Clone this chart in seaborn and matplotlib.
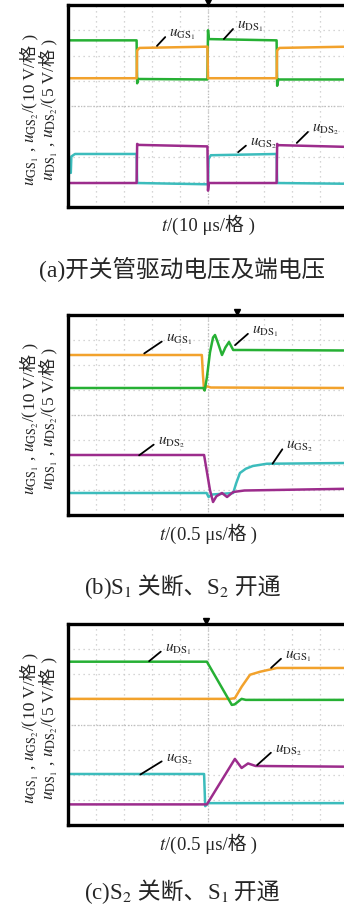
import matplotlib
matplotlib.use("Agg")
import matplotlib.pyplot as plt
import seaborn as sns

# time axis in divisions (10 div), voltage in divisions (8 div)
# ---- panel (a) ----
a_green_t = [0, 2.45, 2.47, 2.5, 4.98, 5.0, 5.03, 7.45, 7.47, 7.5, 10]
a_green_v = [6.6, 6.6, 4.9, 5.07, 5.05, 7.0, 6.65, 6.6, 4.8, 5.05, 5.05]
a_orange_t = [0, 2.45, 2.47, 2.55, 4.98, 5.0, 7.45, 7.47, 7.55, 10]
a_orange_v = [5.1, 5.1, 6.2, 6.3, 6.35, 5.1, 5.1, 6.2, 6.3, 6.35]
a_cyan_t = [0.1, 0.12, 0.25, 2.45, 2.47, 4.98, 5.0, 5.02, 5.1, 7.45, 7.47, 10]
a_cyan_v = [1.35, 2.0, 2.1, 2.1, 0.95, 0.9, 0.9, 1.9, 2.05, 2.1, 0.95, 0.92]
a_mag_t = [0, 2.45, 2.47, 2.5, 4.98, 5.0, 5.03, 7.45, 7.47, 7.5, 10]
a_mag_v = [0.95, 0.95, 2.5, 2.46, 2.4, 0.65, 0.95, 0.95, 2.5, 2.45, 2.38]

# ---- panel (b) ----
b_orange_t = [0, 4.78, 4.82, 4.86, 4.95, 5.1, 10]
b_orange_v = [6.4, 6.4, 5.6, 5.0, 5.15, 5.1, 5.08]
b_green_t = [0, 4.84, 4.88, 4.96, 5.07, 5.18, 5.25, 5.35, 5.5, 5.62, 5.75, 5.9, 6.3, 10]
b_green_v = [5.08, 5.08, 4.98, 5.5, 6.5, 7.1, 7.2, 6.9, 6.4, 6.7, 6.92, 6.6, 6.6, 6.58]
b_mag_t = [0, 4.86, 5.07, 5.18, 5.3, 5.5, 5.68, 5.9, 6.3, 10]
b_mag_v = [2.4, 2.4, 1.0, 0.52, 0.75, 0.88, 0.72, 0.92, 0.98, 1.05]
b_cyan_t = [0, 4.95, 5.02, 5.15, 5.9, 6.0, 6.14, 6.35, 6.6, 7.1, 10]
b_cyan_v = [0.88, 0.88, 0.72, 0.82, 0.88, 1.25, 1.68, 1.85, 1.96, 2.05, 2.08]

# ---- panel (c) ----
c_green_t = [0, 4.96, 5.85, 5.95, 6.2, 6.35, 10]
c_green_v = [6.5, 6.5, 4.78, 4.8, 5.02, 4.98, 4.98]
c_orange_t = [0, 5.8, 5.96, 6.2, 6.5, 6.86, 7.46, 10]
c_orange_v = [5.02, 5.02, 5.05, 5.5, 5.98, 6.1, 6.25, 6.25]
c_cyan_t = [0, 4.86, 4.9, 5.0, 10]
c_cyan_v = [2.03, 2.03, 0.75, 0.87, 0.87]
c_mag_t = [0, 4.96, 5.96, 6.2, 6.43, 6.7, 10]
c_mag_v = [0.82, 0.82, 2.63, 2.27, 2.45, 2.35, 2.32]

# labels: (subscript, leader start, leader end / text anchor)
a_labels = [("GS_1", (3.11, 6.30), (3.54, 6.81)),
            ("DS_1", (5.50, 6.57), (5.96, 7.13)),
            ("GS_2", (6.00, 2.10), (6.43, 2.50)),
            ("DS_2", (8.10, 2.46), (8.64, 3.05))]
b_labels = [("GS_1", (2.64, 6.40), (3.43, 7.00)),
            ("DS_1", (5.89, 6.72), (6.50, 7.32)),
            ("DS_2", (2.46, 2.32), (3.14, 2.88)),
            ("GS_2", (7.25, 1.96), (7.71, 2.72))]
c_labels = [("DS_1", (2.82, 6.45), (3.39, 6.97)),
            ("GS_1", (7.18, 6.18), (7.68, 6.69)),
            ("GS_2", (2.50, 1.95), (3.43, 2.59)),
            ("DS_2", (6.68, 2.31), (7.32, 2.95))]

trigger_x = [5.0, 6.04, 4.93]
ylabel_gs = [r"$u_{\mathrm{GS_1}}$ , $u_{\mathrm{GS_2}}$/(", "10 V/格", " )"]
ylabel_ds = [r"$u_{\mathrm{DS_1}}$ , $u_{\mathrm{DS_2}}$/(", "5 V/格", " )"]
x_labels = [["$t$/(", "10 μs/格", " )"], ["$t$/(", "0.5 μs/格", " )"],
            ["$t$/(", "0.5 μs/格", " )"]]
captions = [["(a)开关管驱动电压及端电压"],
            ["(b)S$_1$", " 关断、", "S$_2$", " 开通"],
            ["(c)S$_2$", " 关断、", "S$_1$", " 开通"]]
caption_size = [17, 16.5, 16.5]

GREEN = "#26b034"
ORANGE = "#f2a22c"
CYAN = "#3cbcbc"
MAGENTA = "#9c2c8c"

sns.set_style("white")
plt.rcParams["font.family"] = ["Liberation Serif", "Noto Sans CJK SC"]
plt.rcParams["mathtext.fontset"] = "stix"

W, H = 344.0, 907.0
fig = plt.figure(figsize=(W / 100, H / 100), dpi=100)
renderer = fig.canvas.get_renderer()


def put_parts(parts, x_px, y_px, size, vertical=False):
    # chain text pieces so CJK pieces can use font fallback
    objs, lens = [], []
    for s in parts:
        t = fig.text(0, 0, s, fontsize=size, ha="left", va="baseline",
                     rotation=90 if vertical else 0, rotation_mode="anchor")
        bb = t.get_window_extent(renderer=renderer)
        lens.append(bb.height if vertical else bb.width)
        objs.append(t)
    pos = -sum(lens) / 2
    for t, n in zip(objs, lens):
        if vertical:
            t.set_position((x_px / W, (H - y_px + pos) / H))
        else:
            t.set_position(((x_px + pos) / W, 1 - y_px / H))
        pos += n


boxes = [(5, 207), (315, 515), (624, 825)]
caption_y = [277, 594, 899]
xlabel_y = [231, 540, 850]

panels = [
    [(a_green_t, a_green_v, GREEN), (a_orange_t, a_orange_v, ORANGE),
     (a_cyan_t, a_cyan_v, CYAN), (a_mag_t, a_mag_v, MAGENTA)],
    [(b_orange_t, b_orange_v, ORANGE), (b_green_t, b_green_v, GREEN),
     (b_cyan_t, b_cyan_v, CYAN), (b_mag_t, b_mag_v, MAGENTA)],
    [(c_orange_t, c_orange_v, ORANGE), (c_green_t, c_green_v, GREEN),
     (c_cyan_t, c_cyan_v, CYAN), (c_mag_t, c_mag_v, MAGENTA)],
]
all_labels = [a_labels, b_labels, c_labels]

for i, (top, bot) in enumerate(boxes):
    ax = fig.add_axes([68 / W, 1 - bot / H, 280 / W, (bot - top) / H])
    ax.set_xlim(0, 10)
    ax.set_ylim(0, 8)
    ax.set_xticks(range(11))
    ax.set_yticks(range(9))
    ax.tick_params(length=0, labelbottom=False, labelleft=False)
    ax.grid(True, color="#c8c8c8", linestyle=(0, (1, 3)), linewidth=0.9)
    ax.axhline(4, color="#bdbdbd", linestyle=(0, (1, 1.5)), linewidth=0.9)
    ax.axvline(5, color="#bdbdbd", linestyle=(0, (1, 1.5)), linewidth=0.9)
    for s in ax.spines.values():
        s.set_color("black")
        s.set_linewidth(2.4)

    for t, v, col in panels[i]:
        sns.lineplot(x=t, y=v, ax=ax, color=col, linewidth=1.8,
                     sort=False, estimator=None)

    for name, p0, p1 in all_labels[i]:
        ax.annotate("", xy=p0, xytext=p1,
                    arrowprops=dict(arrowstyle="-", color="black", lw=1.3))
        ax.text(p1[0] + 0.08, p1[1] + 0.02, r"$u_{\mathrm{%s}}$" % name,
                fontsize=11, va="center", ha="left")

    ax.plot([trigger_x[i]], [8.12], marker="v", color="black",
            markersize=5, clip_on=False)

    yc = (top + bot) / 2 + 4
    put_parts(ylabel_gs, 35, yc, 12.5, vertical=True)
    put_parts(ylabel_ds, 54, yc, 12.5, vertical=True)
    put_parts(x_labels[i], 208, xlabel_y[i], 13.5)
    put_parts(captions[i], 182, caption_y[i], caption_size[i])

fig.savefig("out.png", dpi=100)
